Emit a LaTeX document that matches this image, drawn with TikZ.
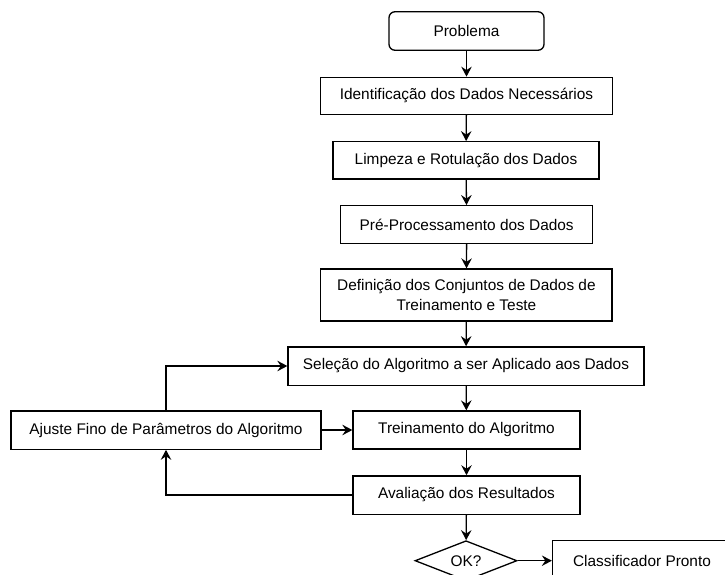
\documentclass[tikz,border=0pt]{standalone}
\usepackage{fontspec}
\setmainfont{Liberation Sans}
\usetikzlibrary{arrows.meta,shapes.geometric}
\begin{document}
\begin{tikzpicture}[x=1pt,y=-1pt,
  font=\fontsize{15.4}{20}\selectfont,
  box/.style={draw,line width=1.3pt,rectangle,inner sep=0pt,align=center},
  arr/.style={line width=1.3pt,-{Stealth[length=10pt,width=10.5pt,inset=3.5pt]}}]
\useasboundingbox (0,0) rectangle (725,574);
\node[box,rounded corners=6pt,minimum width=155pt,minimum height=38.5pt] (prob) at (466.5,31) {Problema};
\node[box,minimum width=291.6pt,minimum height=37pt] (ident) at (466.5,95.8) {Identificação dos Dados Necessários};
\node[box,minimum width=266pt,minimum height=37.3pt] (limp) at (466,160.4) {Limpeza e Rotulação dos Dados};
\node[box,minimum width=252pt,minimum height=37.6pt] (pre) at (466.7,224.5) {Pré-Processamento dos Dados};
\node[box,minimum width=291.3pt,minimum height=52pt] (def) at (466.4,295) {Definição dos Conjuntos de Dados de\\Treinamento e Teste};
\node[box,minimum width=356pt,minimum height=38.3pt] (sel) at (466,366) {Seleção do Algoritmo a ser Aplicado aos Dados};
\node[box,minimum width=310pt,minimum height=38.3pt] (ajuste) at (166,430) {Ajuste Fino de Parâmetros do Algoritmo};
\node[box,minimum width=227pt,minimum height=38pt] (trein) at (466.5,430) {Treinamento do Algoritmo};
\node[box,minimum width=227pt,minimum height=38.3pt] (aval) at (466.5,495) {Avaliação dos Resultados};
\node[box,shape=diamond,aspect=2.5,minimum width=102pt,minimum height=40pt] (ok) at (466,560.7) {OK?};
\node[box,minimum width=179pt,minimum height=40pt] (classif) at (642,560.7) {Classificador Pronto};
\draw[arr] (prob) -- (ident);
\draw[arr] (ident) -- (limp);
\draw[arr] (limp) -- (pre);
\draw[arr] (pre) -- (def);
\draw[arr] (def) -- (sel);
\draw[arr] (sel) -- (trein);
\draw[arr] (trein) -- (aval);
\draw[arr] (aval) -- (ok);
\draw[arr] (ok) -- (classif);
\draw[arr] (ajuste) -- (trein);
\draw[arr] (ajuste.north) |- (sel.west);
\draw[arr] (aval.west) -| (ajuste.south);
\end{tikzpicture}
\end{document}
